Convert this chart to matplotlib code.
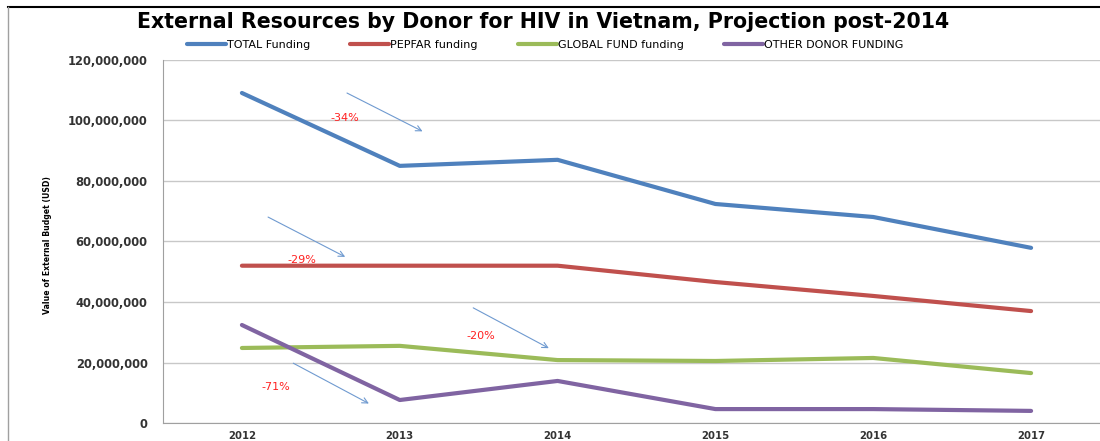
import numpy as np
import matplotlib
matplotlib.use("Agg")
import matplotlib.pyplot as plt
from matplotlib.lines import Line2D
from matplotlib.ticker import FuncFormatter

# data
years = [2012, 2013, 2014, 2015, 2016, 2017]
total = [109.1e6, 85.0e6, 87.0e6, 72.4e6, 68.1e6, 57.9e6]
pepfar = [52.0e6, 52.0e6, 52.0e6, 46.6e6, 42.0e6, 37.0e6]
global_fund = [24.8e6, 25.5e6, 20.8e6, 20.5e6, 21.5e6, 16.5e6]
other = [32.4e6, 7.6e6, 13.9e6, 4.6e6, 4.6e6, 4.0e6]

series_names = ["TOTAL Funding", "PEPFAR funding", "GLOBAL FUND funding", "OTHER DONOR FUNDING"]
series_colors = ["#4f81bd", "#c0504d", "#9bbb59", "#8064a2"]

# percentage change annotations (label, label pos, arrow start, arrow end)
pct_labels = ["-34%", "-29%", "-20%", "-71%"]
pct_text_xy = [(2012.65, 100.8e6), (2012.38, 53.9e6), (2013.515, 28.8e6), (2012.215, 11.9e6)]
arrow_start = [(2012.65, 109.5e6), (2012.15, 68.5e6), (2013.45, 38.5e6), (2012.31, 20.2e6)]
arrow_end = [(2013.16, 96e6), (2012.67, 54.5e6), (2013.96, 24.3e6), (2012.82, 6e6)]

fig = plt.figure(figsize=(11, 4.41), dpi=100)
ax = fig.add_axes([163 / 1100, 18 / 441, 947 / 1100, 363 / 441])

for vals, name, col in zip([total, pepfar, global_fund, other], series_names, series_colors):
    ax.plot(years, vals, color=col, lw=3, solid_capstyle="round", label=name)

for lab, txy, a0, a1 in zip(pct_labels, pct_text_xy, arrow_start, arrow_end):
    ax.text(txy[0], txy[1], lab, color="#ff2020", fontsize=8, ha="center", va="center")
    ax.annotate("", xy=a1, xytext=a0,
                arrowprops=dict(arrowstyle="->", color="#6f9ad0", lw=0.8))

ax.set_xlim(2011.5, 2017.5)
ax.set_ylim(0, 120e6)
ax.set_xticks(years)
ax.set_yticks(np.arange(0, 120e6 + 1, 20e6))
ax.yaxis.set_major_formatter(FuncFormatter(lambda v, p: f"{int(v):,}"))
ax.grid(axis="y", color="#c8c8c8", lw=1)
ax.set_axisbelow(True)
for s in ["top", "right"]:
    ax.spines[s].set_visible(False)
for s in ["left", "bottom"]:
    ax.spines[s].set_color("#a0a0a0")
ax.tick_params(axis="y", length=0, pad=11, labelsize=8.3, labelcolor="#333333")
ax.tick_params(axis="x", length=0, pad=6, labelsize=7.3, labelcolor="#333333")
for t in ax.get_xticklabels() + ax.get_yticklabels():
    t.set_fontweight("bold")

fig.text(48 / 1100, 1 - 245 / 441, "Value of External Budget (USD)", rotation=90,
         fontsize=5.6, fontweight="bold", ha="center", va="center")

fig.text(543 / 1100, 1 - 22 / 441,
         "External Resources by Donor for HIV in Vietnam, Projection post-2014",
         fontsize=14.8, fontweight="bold", ha="center", va="center")

fig.legend(loc="center", bbox_to_anchor=(545 / 1100, 1 - 45 / 441), ncol=4,
           frameon=False, fontsize=8, handlelength=3.5, handletextpad=0.1,
           columnspacing=3.6)

# chart frame edges
fig.add_artist(Line2D([8 / 1100, 1], [1 - 7 / 441, 1 - 7 / 441], color="black", lw=1.5))
fig.add_artist(Line2D([8 / 1100, 8 / 1100], [0, 1 - 7 / 441], color="#a0a0a0", lw=1))

fig.savefig("out.png", dpi=100)
